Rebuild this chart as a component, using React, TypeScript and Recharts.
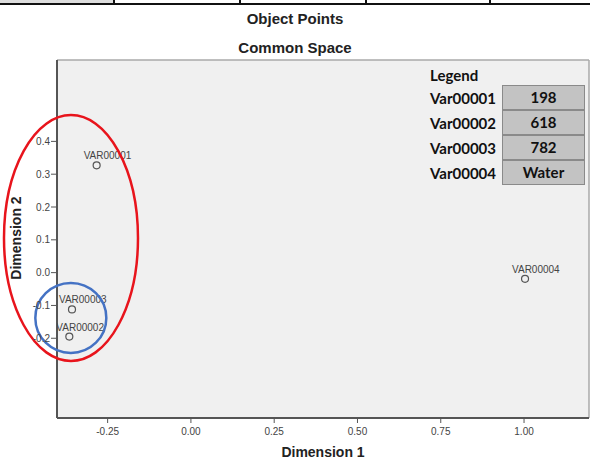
import React from 'react';
import { ScatterChart, Scatter, XAxis, YAxis, CartesianGrid, ReferenceDot, ReferenceLine } from 'recharts';

const categories = ['VAR00001', 'VAR00002', 'VAR00003', 'VAR00004'];
const dim1 = [-0.283, -0.365, -0.357, 1.003];
const dim2 = [0.327, -0.195, -0.112, -0.019];
const xTicks = [-0.25, 0, 0.25, 0.5, 0.75, 1.0];
const yTicks = [-0.2, -0.1, 0, 0.1, 0.2, 0.3, 0.4];
const xDomain = [-0.402, 1.195];
const yDomain = [-0.443, 0.648];
const legendLabels = ['Var00001', 'Var00002', 'Var00003', 'Var00004'];
const legendValues = ['198', '618', '782', 'Water'];
// annotation ellipses: centre (data coords)
const redCenter = { x: -0.36, y: 0.1055 };
const blueCenter = { x: -0.3605, y: -0.138 };

const data = categories.map((name, i) => ({ name, x: dim1[i], y: dim2[i] }));

const FONT = '"Liberation Sans", Arial, sans-serif';
const LFONT = 'Lato, "Open Sans", sans-serif';

const PointShape = (props: any) => {
  const { cx, cy, payload } = props;
  return (
    <g>
      <circle cx={cx} cy={cy} r={3.5} fill="none" stroke="#555" strokeWidth={1.2} />
      <text x={cx - 13} y={cy - 6} fontSize={10} fontFamily={FONT} fill="#444">{payload.name}</text>
    </g>
  );
};

export default function App() {
  const dividers = [113, 239, 365, 489];
  return (
    <div style={{ position: 'absolute', left: 0, top: 0, width: 590, height: 461, background: '#fff', overflow: 'hidden' }}>
      {/* cropped table fragment at top */}
      <div style={{ position: 'absolute', left: 0, top: 0, width: 113, height: 3, background: '#ddd' }} />
      <div style={{ position: 'absolute', left: 0, top: 3, width: 590, height: 2, background: '#111' }} />
      {dividers.map((d) => (
        <div key={d} style={{ position: 'absolute', left: d, top: 0, width: 2, height: 5, background: '#111' }} />
      ))}
      <div style={{ position: 'absolute', left: 0, width: 590, top: 10, textAlign: 'center', fontFamily: FONT, fontWeight: 'bold', fontSize: 15, color: '#222' }}>Object Points</div>
      <div style={{ position: 'absolute', left: 0, width: 590, top: 39, textAlign: 'center', fontFamily: FONT, fontWeight: 'bold', fontSize: 15, color: '#222' }}>Common Space</div>
      <ScatterChart width={590} height={461} margin={{ top: 60, right: 1, left: 0, bottom: 0 }} style={{ position: 'absolute', left: 0, top: 0 }}>
        <CartesianGrid horizontal={false} vertical={false} fill="#f0f0f0" />
        <XAxis
          type="number"
          dataKey="x"
          domain={xDomain}
          ticks={xTicks}
          height={43}
          tickSize={5}
          tickMargin={5}
          tickFormatter={(v: number) => v.toFixed(2)}
          tick={{ fontSize: 10, fontFamily: FONT, fill: '#444' }}
          axisLine={{ stroke: '#555', strokeWidth: 2 }}
          tickLine={{ stroke: '#555' }}
          allowDataOverflow
        />
        <YAxis
          type="number"
          dataKey="y"
          domain={yDomain}
          ticks={yTicks}
          width={57}
          tickSize={6}
          tickMargin={1}
          tickFormatter={(v: number) => v.toFixed(1)}
          tick={{ fontSize: 10, fontFamily: FONT, fill: '#444' }}
          axisLine={{ stroke: '#555', strokeWidth: 2 }}
          tickLine={{ stroke: '#555' }}
          allowDataOverflow
        />
        <ReferenceLine y={yDomain[1]} stroke="#aaa" strokeWidth={1.5} ifOverflow="visible" />
        <ReferenceLine x={xDomain[1]} stroke="#aaa" strokeWidth={1.5} ifOverflow="visible" />
        <Scatter data={data} shape={PointShape} isAnimationActive={false} />
        <ReferenceDot
          x={redCenter.x}
          y={redCenter.y}
          ifOverflow="visible"
          shape={(p: any) => <ellipse cx={p.cx} cy={p.cy} rx={67} ry={123} fill="none" stroke="#e8141c" strokeWidth={2.5} />}
        />
        <ReferenceDot
          x={blueCenter.x}
          y={blueCenter.y}
          ifOverflow="visible"
          shape={(p: any) => <ellipse cx={p.cx} cy={p.cy} rx={35.5} ry={35} fill="none" stroke="#4472c4" strokeWidth={2.5} />}
        />
      </ScatterChart>
      <div style={{ position: 'absolute', left: 0, width: 646, top: 444, textAlign: 'center', fontFamily: FONT, fontWeight: 'bold', fontSize: 14, color: '#222' }}>Dimension 1</div>
      <div style={{ position: 'absolute', left: 16, top: 239, width: 0, height: 0 }}>
        <div style={{ position: 'absolute', left: -60, top: -9, width: 120, textAlign: 'center', transform: 'rotate(-90deg)', fontFamily: FONT, fontWeight: 'bold', fontSize: 14, color: '#222', whiteSpace: 'nowrap' }}>Dimension 2</div>
      </div>
      {/* legend table */}
      <div style={{ position: 'absolute', left: 430, top: 66, fontFamily: LFONT, fontWeight: 'bold', fontSize: 15, color: '#111' }}>Legend</div>
      {legendLabels.map((lab, i) => (
        <React.Fragment key={lab}>
          <div style={{ position: 'absolute', left: 430, top: 86 + i * 25, height: 25, lineHeight: '25px', fontFamily: LFONT, fontWeight: 'bold', fontSize: 15, color: '#111' }}>{lab}</div>
          <div style={{ position: 'absolute', left: 502, top: 85 + i * 25, width: 83, height: 25, boxSizing: 'border-box', border: '1px solid #8a8a8a', background: '#c3c3c3', lineHeight: '23px', textAlign: 'center', fontFamily: LFONT, fontWeight: 'bold', fontSize: 15, color: '#111' }}>{legendValues[i]}</div>
        </React.Fragment>
      ))}
    </div>
  );
}
